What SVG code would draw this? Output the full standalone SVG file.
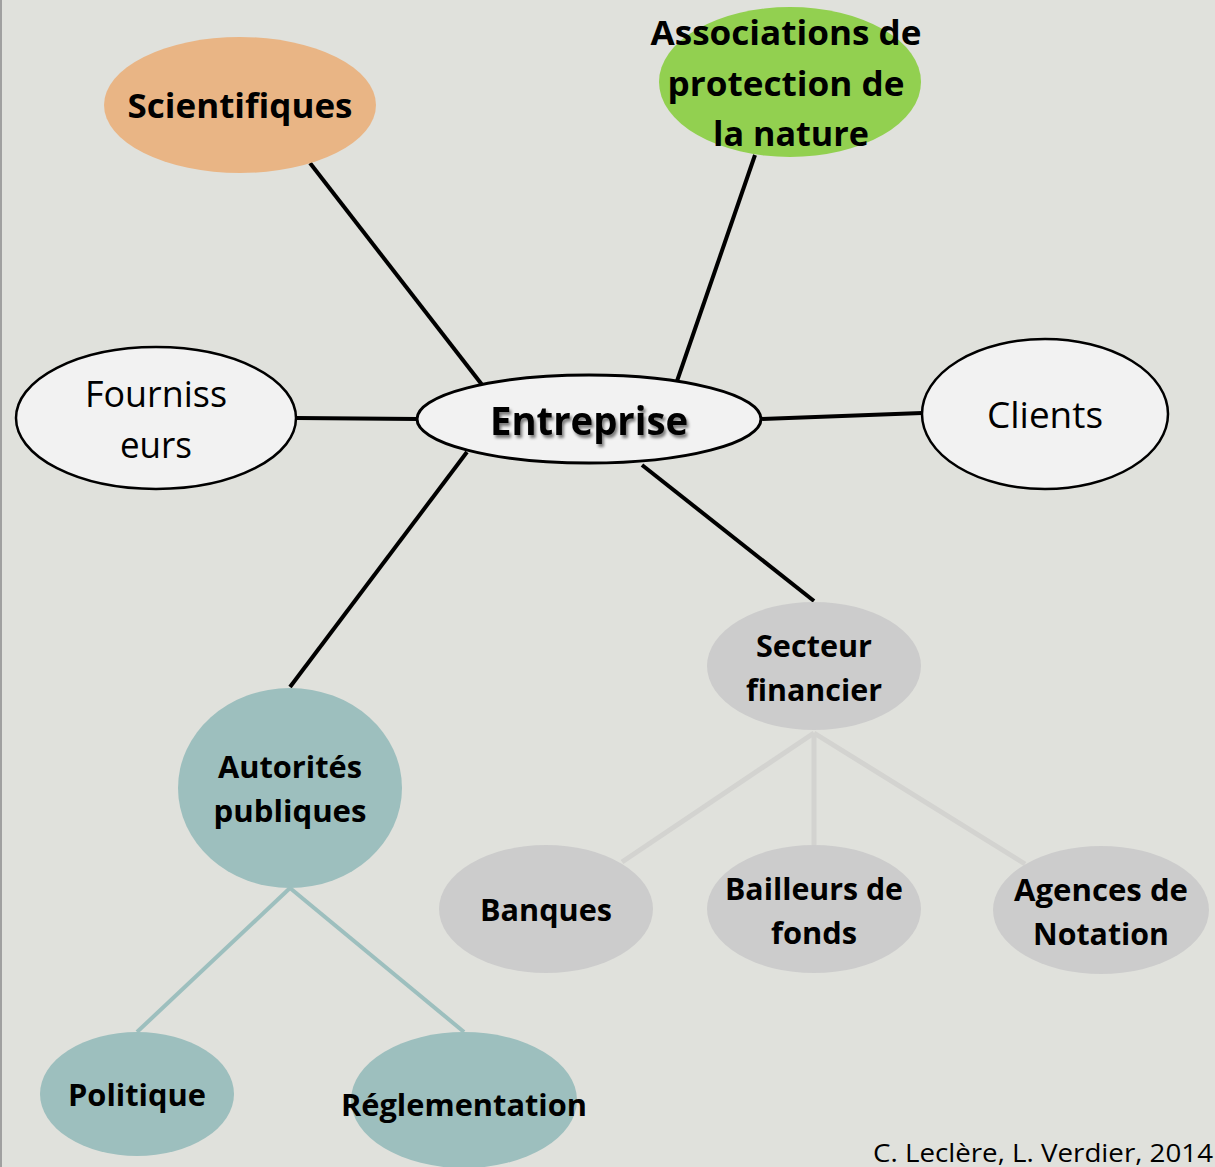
<svg xmlns="http://www.w3.org/2000/svg" width="1215" height="1167" viewBox="0 0 1215 1167">
<defs>
<style>
text{font-family:"Open Sans","Liberation Sans",sans-serif;fill:#000;text-anchor:middle}
.b{font-weight:bold}
.blk{stroke:#000;stroke-width:4;fill:none}
.gry{stroke:#d3d3d0;stroke-width:5;fill:none}
.tea{stroke:#9dbfbe;stroke-width:4;fill:none}
</style>
<filter id="sh" x="-10%" y="-20%" width="120%" height="150%">
<feGaussianBlur in="SourceAlpha" stdDeviation="1.5"/>
<feOffset dx="2" dy="3" result="o"/>
<feComponentTransfer><feFuncA type="linear" slope="0.5"/></feComponentTransfer>
<feMerge><feMergeNode/><feMergeNode in="SourceGraphic"/></feMerge>
</filter>
</defs>
<rect width="1215" height="1167" fill="#e0e1dc"/>
<line x1="1" y1="0" x2="1" y2="1167" stroke="#a0a0a0" stroke-width="2"/>
<g id="connectors">
<line class="blk" x1="310" y1="163" x2="483" y2="386"/>
<line class="blk" x1="755" y1="155" x2="676" y2="384"/>
<line class="blk" x1="297" y1="418" x2="418" y2="419"/>
<line class="blk" x1="760" y1="419" x2="922" y2="413"/>
<line class="blk" x1="467" y1="452" x2="290" y2="687"/>
<line class="blk" x1="642" y1="465" x2="814" y2="601"/>
<line class="gry" x1="814" y1="733" x2="622" y2="862"/>
<line class="gry" x1="814" y1="733" x2="814" y2="845"/>
<line class="gry" x1="814" y1="733" x2="1025" y2="864"/>
<line class="tea" x1="290" y1="888" x2="137" y2="1032"/>
<line class="tea" x1="290" y1="888" x2="464" y2="1032"/>
</g>
<g id="scientifiques">
<ellipse cx="240" cy="105" rx="136" ry="68" fill="#e9b585"/>
<text class="b" x="240" y="118" font-size="34" textLength="225" lengthAdjust="spacingAndGlyphs">Scientifiques</text>
</g>
<g id="associations">
<ellipse cx="790" cy="82" rx="131" ry="75" fill="#92d050"/>
<text class="b" font-size="34"><tspan x="786" y="45" textLength="271" lengthAdjust="spacingAndGlyphs">Associations de</tspan><tspan x="786" y="96" textLength="237" lengthAdjust="spacingAndGlyphs">protection de</tspan><tspan x="791" y="146" textLength="156" lengthAdjust="spacingAndGlyphs">la nature</tspan></text>
</g>
<g id="entreprise">
<ellipse cx="589" cy="419" rx="172" ry="44" fill="#f2f2f2" stroke="#000" stroke-width="3"/>
<text class="b" x="589" y="435" font-size="40" filter="url(#sh)" textLength="198" lengthAdjust="spacingAndGlyphs">Entreprise</text>
</g>
<g id="fournisseurs">
<ellipse cx="156" cy="418" rx="140" ry="71" fill="#f2f2f2" stroke="#000" stroke-width="2.5"/>
<text font-size="36"><tspan x="156" y="407" textLength="142" lengthAdjust="spacingAndGlyphs">Fourniss</tspan><tspan x="156" y="458" textLength="72" lengthAdjust="spacingAndGlyphs">eurs</tspan></text>
</g>
<g id="clients">
<ellipse cx="1045" cy="414" rx="123" ry="75" fill="#f2f2f2" stroke="#000" stroke-width="2.5"/>
<text x="1045" y="428" font-size="36" textLength="116" lengthAdjust="spacingAndGlyphs">Clients</text>
</g>
<g id="secteur">
<ellipse cx="814" cy="666" rx="107" ry="64" fill="#cccccc"/>
<text class="b" font-size="31"><tspan x="814" y="657" textLength="116" lengthAdjust="spacingAndGlyphs">Secteur</tspan><tspan x="814" y="701" textLength="136" lengthAdjust="spacingAndGlyphs">financier</tspan></text>
</g>
<g id="autorites">
<ellipse cx="290" cy="788" rx="112" ry="100" fill="#9dbfbe"/>
<text class="b" font-size="31"><tspan x="290" y="778" textLength="144" lengthAdjust="spacingAndGlyphs">Autorités</tspan><tspan x="290" y="822" textLength="153" lengthAdjust="spacingAndGlyphs">publiques</tspan></text>
</g>
<g id="banques">
<ellipse cx="546" cy="909" rx="107" ry="64" fill="#cccccc"/>
<text class="b" x="546" y="921" font-size="31" textLength="132" lengthAdjust="spacingAndGlyphs">Banques</text>
</g>
<g id="bailleurs">
<ellipse cx="814" cy="909" rx="107" ry="64" fill="#cccccc"/>
<text class="b" font-size="31"><tspan x="814" y="900" textLength="178" lengthAdjust="spacingAndGlyphs">Bailleurs de</tspan><tspan x="814" y="944" textLength="86" lengthAdjust="spacingAndGlyphs">fonds</tspan></text>
</g>
<g id="agences">
<ellipse cx="1101" cy="910" rx="108" ry="64" fill="#cccccc"/>
<text class="b" font-size="31"><tspan x="1101" y="901" textLength="174" lengthAdjust="spacingAndGlyphs">Agences de</tspan><tspan x="1101" y="945" textLength="136" lengthAdjust="spacingAndGlyphs">Notation</tspan></text>
</g>
<g id="politique">
<ellipse cx="137" cy="1094" rx="97" ry="62" fill="#9dbfbe"/>
<text class="b" x="137" y="1106" font-size="31" textLength="138" lengthAdjust="spacingAndGlyphs">Politique</text>
</g>
<g id="reglementation">
<ellipse cx="464" cy="1100" rx="113" ry="68" fill="#9dbfbe"/>
<text class="b" x="464" y="1116" font-size="31" textLength="246" lengthAdjust="spacingAndGlyphs">Réglementation</text>
</g>
<text x="1043" y="1162" font-size="25" textLength="340" lengthAdjust="spacingAndGlyphs">C. Leclère, L. Verdier, 2014</text>
</svg>
